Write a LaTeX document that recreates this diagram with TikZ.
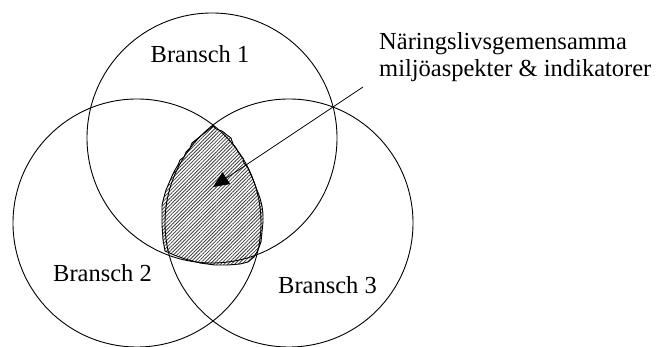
\documentclass[tikz,border=0pt]{standalone}
\usepackage{fontspec}
\setmainfont{Liberation Serif}
\usetikzlibrary{arrows.meta,patterns.meta}
\begin{document}
\begin{tikzpicture}[x=1pt,y=-1pt,
  ring/.style={circle,draw,line width=0.9pt,inner sep=0pt},
  lbl/.style={font=\fontsize{24.5}{28}\selectfont,inner sep=0pt},
  blob/.style={draw,line width=0.9pt,pattern={Lines[angle=45,distance=2.5pt,line width=0.8pt]},pattern color=black!75}]
\useasboundingbox (0,0) rectangle (659,347);
\fill[white] (0,0) rectangle (659,347);
% shaded common area
\path[blob] (213,126) -- (216,129) -- (222,131) -- (227,135) -- (231,138) -- (233,144) -- (236,148) -- (238,152) -- (241,156) -- (243,158) -- (244,163) -- (248,168) -- (251,175) -- (254,182) -- (257,190) -- (260,198) -- (262,206) -- (263,214) -- (263,222) -- (262,232) -- (261,242) -- (258,250) -- (254,257) -- (248,262) -- (240,264) -- (228,265) -- (215,265) -- (200,263) -- (185,259) -- (174,255) -- (165,251) -- (163,240) -- (162,225) -- (162,205) -- (164,197) -- (166,190) -- (169,183) -- (172,176) -- (175,170) -- (178,165) -- (180,160) -- (184,157) -- (186,152) -- (190,148) -- (192,143) -- (197,139) -- (202,135) -- (207,131) -- (211,128) -- cycle;
% circles
\node[ring,minimum size=250pt] (c1) at (212,138) {};
\node[ring,minimum size=248pt] (c2) at (137,223) {};
\node[ring,minimum size=248pt] (c3) at (289,223) {};
% labels
\node[lbl,anchor=base] (b1) at (200,63) {Bransch 1};
\node[lbl,anchor=base west] (b2) at (53,282) {Bransch 2};
\node[lbl,anchor=base west] (b3) at (278,294) {Bransch 3};
\node[lbl,anchor=base west] (t1) at (379,50) {Näringslivsgemensamma};
\node[lbl,anchor=base west] (t2) at (379,77) {miljöaspekter \& indikatorer};
% arrow
\coordinate (tail) at (363,87);
\coordinate (tip) at (213,187);
\draw[line width=0.8pt,-{Triangle[length=16pt,width=14pt]}] (tail) -- (tip);
\end{tikzpicture}
\end{document}
